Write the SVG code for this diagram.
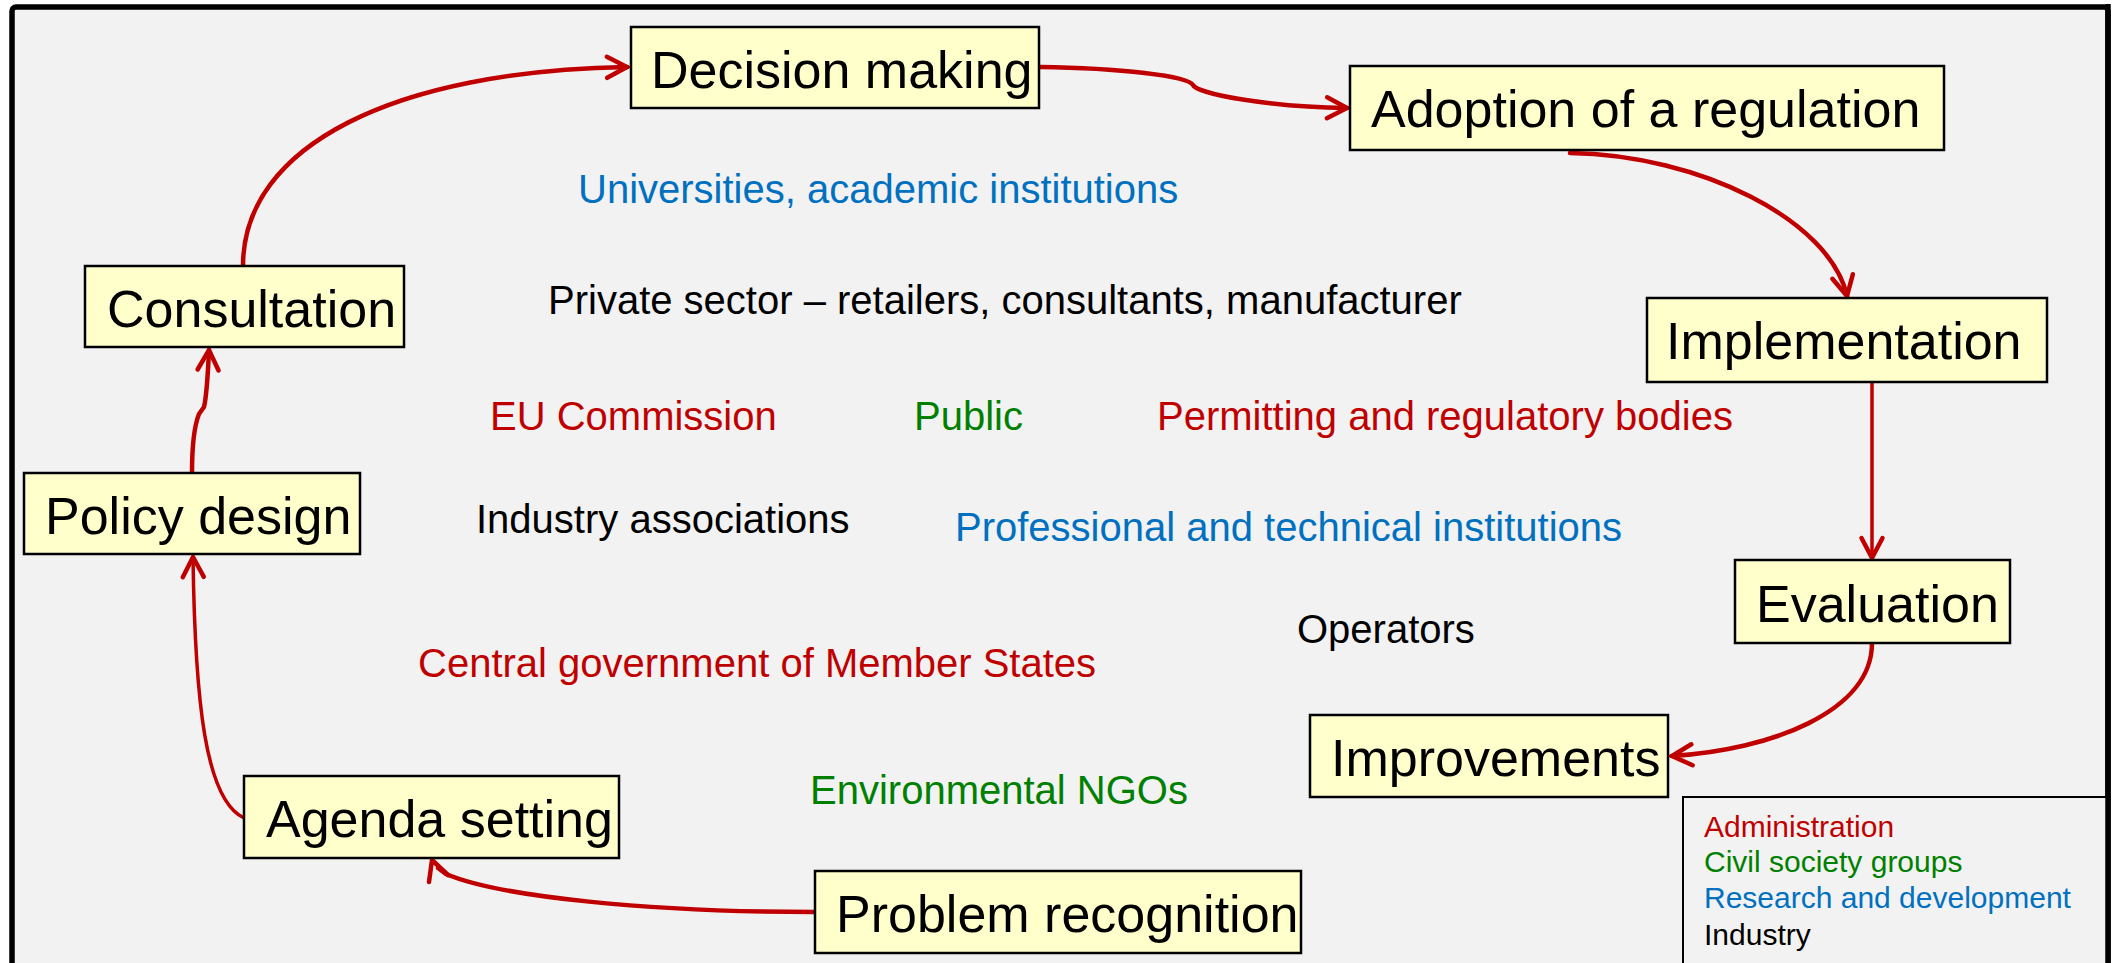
<svg xmlns="http://www.w3.org/2000/svg" width="2114" height="963" viewBox="0 0 2114 963">
  <style>
    .box { fill: #ffffcc; stroke: #000; stroke-width: 2.5; }
    .nt { font-family: "Liberation Sans", Arial, sans-serif; font-size: 52px; fill: #000; }
    .ft { font-family: "Liberation Sans", Arial, sans-serif; font-size: 40px; }
    .lg { font-family: "Liberation Sans", Arial, sans-serif; font-size: 30px; }
    .red { fill: #c00000; }
    .green { fill: #008000; }
    .blue { fill: #0070c0; }
    .blk { fill: #000; }
    .con { fill: none; stroke: #c00000; stroke-width: 4.5; stroke-linecap: round; stroke-linejoin: round; }
    .thin { stroke-width: 3.5; }
  </style>
  <defs>
    <marker id="ah" markerUnits="userSpaceOnUse" markerWidth="40" markerHeight="40" refX="22" refY="12" orient="auto" overflow="visible">
      <path d="M2,1.5 L22,12 L2,22.5" fill="none" stroke="#c00000" stroke-width="4.5" stroke-linecap="round" stroke-linejoin="miter"/>
    </marker>
  </defs>

  <rect x="0" y="0" width="2114" height="963" fill="#ffffff"/>
  <rect id="frame" x="12" y="7" width="2096" height="1010" rx="4" fill="#f2f2f2" stroke="#000" stroke-width="5.5"/>

  <g id="connectors">
    <path class="con" d="M243,266 C243,145 395,71 627,67" marker-end="url(#ah)"/>
    <path class="con" d="M1040,67 C1120,68 1188,76 1193,85 C1197,94 1270,107 1347,108" marker-end="url(#ah)"/>
    <path class="con" d="M1570,153 C1700,155 1830,220 1847,296" marker-end="url(#ah)"/>
    <path class="con thin" d="M1872,383 L1872,558" marker-end="url(#ah)"/>
    <path class="con" d="M1872,643 C1872,712 1770,750 1672,756" marker-end="url(#ah)"/>
    <path class="con" d="M815,912 C650,912 500,897 446,874 L438,868"/>
    <polyline class="con" points="429,882 432,860 448,875"/>
    <path class="con thin" d="M244,818 C205,800 195,700 193,557" marker-end="url(#ah)"/>
    <path class="con" d="M192,473 C192,440 195,424 199,414 L204,407 C207,395 208,372 209,350" marker-end="url(#ah)"/>
  </g>

  <g id="n-decision">
    <rect class="box" x="631" y="27" width="408" height="81"/>
    <text class="nt" x="651" y="88">Decision making</text>
  </g>
  <g id="n-adoption">
    <rect class="box" x="1350" y="66" width="594" height="84"/>
    <text class="nt" x="1371" y="127">Adoption of a regulation</text>
  </g>
  <g id="n-consultation">
    <rect class="box" x="85" y="266" width="319" height="81"/>
    <text class="nt" x="107" y="327">Consultation</text>
  </g>
  <g id="n-implementation">
    <rect class="box" x="1647" y="298" width="400" height="84"/>
    <text class="nt" x="1666" y="359">Implementation</text>
  </g>
  <g id="n-policy">
    <rect class="box" x="24" y="473" width="336" height="81"/>
    <text class="nt" x="45" y="534">Policy design</text>
  </g>
  <g id="n-evaluation">
    <rect class="box" x="1735" y="560" width="275" height="83"/>
    <text class="nt" x="1756" y="622">Evaluation</text>
  </g>
  <g id="n-agenda">
    <rect class="box" x="244" y="776" width="375" height="82"/>
    <text class="nt" x="266" y="837">Agenda setting</text>
  </g>
  <g id="n-improvements">
    <rect class="box" x="1310" y="715" width="358" height="82"/>
    <text class="nt" x="1331" y="776">Improvements</text>
  </g>
  <g id="n-problem">
    <rect class="box" x="815" y="871" width="486" height="82"/>
    <text class="nt" x="836" y="932">Problem recognition</text>
  </g>

  <g id="stakeholders">
    <text class="ft blue" x="578" y="203">Universities, academic institutions</text>
    <text class="ft blk" x="548" y="314">Private sector – retailers, consultants, manufacturer</text>
    <text class="ft red" x="490" y="430">EU Commission</text>
    <text class="ft green" x="914" y="430">Public</text>
    <text class="ft red" x="1157" y="430">Permitting and regulatory bodies</text>
    <text class="ft blk" x="476" y="533">Industry associations</text>
    <text class="ft blue" x="955" y="541">Professional and technical institutions</text>
    <text class="ft blk" x="1297" y="643">Operators</text>
    <text class="ft red" x="418" y="677">Central government of Member States</text>
    <text class="ft green" x="810" y="804">Environmental NGOs</text>
  </g>

  <g id="legend">
    <rect x="1683" y="797" width="425" height="200" fill="#f2f2f2" stroke="#000" stroke-width="2"/>
    <text class="lg red" x="1704" y="837">Administration</text>
    <text class="lg green" x="1704" y="872">Civil society groups</text>
    <text class="lg blue" x="1704" y="908">Research and development</text>
    <text class="lg blk" x="1704" y="945">Industry</text>
  </g>
  <line x1="2108" y1="4" x2="2108" y2="963" stroke="#000" stroke-width="5.5"/>
</svg>
